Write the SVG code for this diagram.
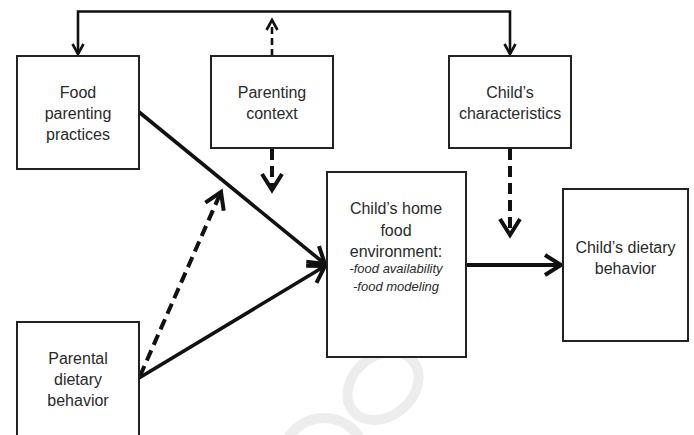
<svg xmlns="http://www.w3.org/2000/svg" width="694" height="435" viewBox="0 0 694 435">
<style>
.box{fill:#fff;stroke:#222;stroke-width:2}
.t{font-family:"Liberation Sans",Arial,sans-serif;font-size:16px;fill:#2a2a2a;text-anchor:middle}
.ti{font-family:"Liberation Sans",Arial,sans-serif;font-size:13px;font-style:italic;fill:#2a2a2a;text-anchor:middle}
.c{fill:none;stroke:#111}
.thin{stroke-width:2.6}
.thick{stroke-width:4}
.mid{stroke-width:3.6}
.dash1{stroke-dasharray:7 4}
.dash2{stroke-dasharray:11 6}
.wm{fill:none;stroke:#ededed;stroke-width:10}
.mk{fill:none;stroke:#111;stroke-dasharray:none;stroke-linejoin:miter}
</style>
<defs>
<marker id="hs" markerUnits="userSpaceOnUse" viewBox="-14 -9 18 18" refX="0" refY="0" markerWidth="18" markerHeight="18" orient="auto-start-reverse">
<path class="mk" d="M-10,-5.5 L0,0 L-10,5.5" stroke-width="2.6"/>
</marker>
<marker id="hl" markerUnits="userSpaceOnUse" viewBox="-20 -13 26 26" refX="0" refY="0" markerWidth="26" markerHeight="26" orient="auto-start-reverse">
<path class="mk" d="M-16,-10 L0,0 L-16,10" stroke-width="4"/>
</marker>
</defs>
<g id="watermark">
<ellipse class="wm" cx="383" cy="386" rx="39" ry="30" transform="rotate(-40 383 386)"/>
<circle class="wm" cx="324" cy="460" r="42"/>
</g>
<g id="connectors">
<path class="c thin" d="M78,54 V11.5 H510 V54" marker-start="url(#hs)" marker-end="url(#hs)"/>
<line class="c thin dash1" x1="272" y1="56" x2="272" y2="20" marker-end="url(#hs)"/>
<line class="c thick dash2" x1="272" y1="149" x2="272" y2="190" marker-end="url(#hl)"/>
<line class="c thick dash2" x1="510" y1="149" x2="510" y2="235" marker-end="url(#hl)"/>
<line class="c mid" x1="139" y1="112" x2="325" y2="264" marker-end="url(#hl)"/>
<line class="c mid" x1="139" y1="378" x2="325" y2="266" marker-end="url(#hl)"/>
<line class="c thick dash2" x1="140" y1="376" x2="221" y2="192" marker-end="url(#hl)"/>
<line class="c thick" x1="466" y1="265" x2="561" y2="265" marker-end="url(#hl)"/>
</g>
<g id="food-parenting-practices">
<rect class="box" x="17" y="56" width="122" height="113"/>
<text class="t" x="78" y="98">Food</text>
<text class="t" x="78" y="119">parenting</text>
<text class="t" x="78" y="140">practices</text>
</g>
<g id="parenting-context">
<rect class="box" x="211" y="56" width="122" height="92"/>
<text class="t" x="272" y="98">Parenting</text>
<text class="t" x="272" y="119">context</text>
</g>
<g id="childs-characteristics">
<rect class="box" x="449" y="56" width="122" height="92"/>
<text class="t" x="510" y="98">Child’s</text>
<text class="t" x="510" y="119">characteristics</text>
</g>
<g id="home-food-environment">
<rect class="box" x="327" y="172" width="139" height="185"/>
<text class="t" x="396" y="214">Child’s home</text>
<text class="t" x="396" y="236">food</text>
<text class="t" x="396" y="257">environment:</text>
<text class="ti" x="396" y="273">-food availability</text>
<text class="ti" x="396" y="291">-food modeling</text>
</g>
<g id="childs-dietary-behavior">
<rect class="box" x="563" y="189" width="125" height="152"/>
<text class="t" x="625.5" y="253">Child’s dietary</text>
<text class="t" x="625.5" y="274">behavior</text>
</g>
<g id="parental-dietary-behavior">
<rect class="box" x="17" y="322" width="122" height="130"/>
<text class="t" x="78" y="364">Parental</text>
<text class="t" x="78" y="385">dietary</text>
<text class="t" x="78" y="406">behavior</text>
</g>
</svg>
